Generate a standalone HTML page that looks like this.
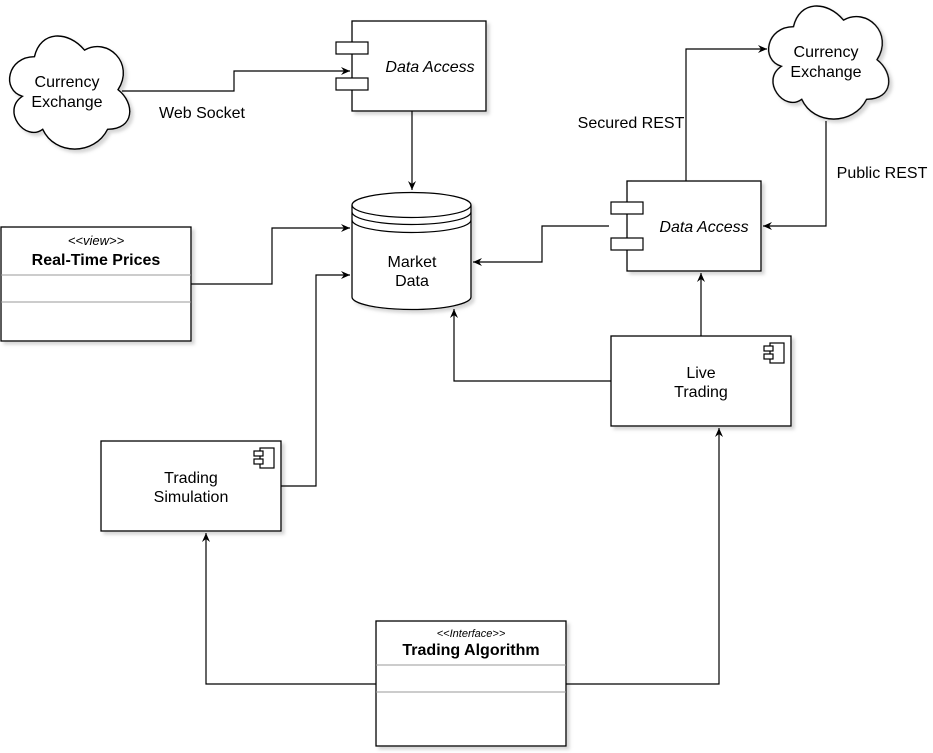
<!DOCTYPE html>
<html><head><meta charset="utf-8"><style>
body{margin:0;background:#fff;}
svg{display:block;font-family:"Liberation Sans",Arial,sans-serif;}
</style></head><body>
<svg width="933" height="753" viewBox="0 0 933 753" xmlns="http://www.w3.org/2000/svg">
<defs>
<marker id="a" markerWidth="10" markerHeight="10" refX="9" refY="5" orient="auto" markerUnits="userSpaceOnUse">
<path d="M0,1 L9,5 L0,9 L3,5 Z" fill="#000"/>
</marker>
<filter id="sh" x="-10%" y="-10%" width="130%" height="130%"><feDropShadow dx="3" dy="3" stdDeviation="1.5" flood-color="#888" flood-opacity="0.35"/></filter>
</defs>
<g fill="#fff" stroke="#000" stroke-width="1.3" filter="url(#sh)">
<g transform="translate(68,93) scale(1.1) translate(-68,-93)">
<path d="M37.5,60 C13,60 7,90 26.5,96 C7,109 29,138 45,126 C56,150 92,150 104,126 C129,126 129,102 113.5,90 C129,66 104,42 83,54 C68,36 43,36 37.5,60 Z"/>
</g>
<g transform="translate(827,63) scale(1.1) translate(-827,-63)">
<path d="M796.5,30 C772,30 766,60 785.5,66 C766,79 788,108 804,96 C815,120 851,120 863,96 C888,96 888,72 872.5,60 C888,36 863,12 842,24 C827,6 802,6 796.5,30 Z"/>
</g>
<rect x="352" y="21" width="134" height="90"/>
<rect x="627" y="181" width="134" height="90"/>
<path d="M352,205 A59.5,12.5 0 0 1 471,205 L471,297 A59.5,12.5 0 0 1 352,297 Z"/>
<rect x="1" y="227" width="190" height="114"/>
<rect x="101" y="441" width="180" height="90"/>
<rect x="611" y="336" width="180" height="90"/>
<rect x="376" y="621" width="190" height="125"/>
</g>
<g fill="#fff" stroke="#000" stroke-width="1.2">
<rect x="336" y="42" width="32" height="12"/><rect x="336" y="78" width="32" height="12"/>
<rect x="611" y="202" width="32" height="12"/><rect x="611" y="238" width="32" height="12"/>
<path d="M352,205 A59.5,12.5 0 0 0 471,205 M352,212 A59.5,12.5 0 0 0 471,212 M352,220 A59.5,12.5 0 0 0 471,220" fill="none"/>
<rect x="260" y="448" width="14" height="20"/><rect x="254" y="451" width="9" height="5"/><rect x="254" y="459" width="9" height="5"/>
<rect x="770" y="343" width="14" height="20"/><rect x="764" y="346" width="9" height="5"/><rect x="764" y="354" width="9" height="5"/>
</g>
<g stroke="#999" stroke-width="1">
<line x1="1" y1="275" x2="191" y2="275"/><line x1="1" y1="302" x2="191" y2="302"/>
<line x1="376" y1="665" x2="566" y2="665"/><line x1="376" y1="692" x2="566" y2="692"/>
</g>
<g fill="none" stroke="#000" stroke-width="1.2" marker-end="url(#a)">
<path d="M122,91 H234 V71 H350"/>
<path d="M412,111 V190"/>
<path d="M191,284 H272 V228 H350"/>
<path d="M281,486 H316 V275 H350"/>
<path d="M609,226 H542 V262 H473"/>
<path d="M686,181 V49 H767"/>
<path d="M826,121 V226 H763"/>
<path d="M701,336 V273"/>
<path d="M611,381 H454 V309"/>
<path d="M376,684 H206 V533"/>
<path d="M566,684 H719 V428"/>
</g>
<g font-size="16" fill="#000" text-anchor="middle">
<text x="67" y="87">Currency</text><text x="67" y="107">Exchange</text>
<text x="826" y="57">Currency</text><text x="826" y="77">Exchange</text>
<text x="430" y="72" font-style="italic">Data Access</text>
<text x="704" y="232" font-style="italic">Data Access</text>
<text x="412" y="267">Market</text><text x="412" y="286">Data</text>
<text x="191" y="483">Trading</text><text x="191" y="502">Simulation</text>
<text x="701" y="378">Live</text><text x="701" y="397">Trading</text>
<text x="202" y="118">Web Socket</text>
<text x="631" y="128">Secured REST</text>
<text x="882" y="178">Public REST</text>
<text x="96" y="245" font-size="13" font-style="italic">&lt;&lt;view&gt;&gt;</text>
<text x="96" y="265" font-size="16" font-weight="bold">Real-Time Prices</text>
<text x="471" y="637" font-size="11" font-style="italic">&lt;&lt;Interface&gt;&gt;</text>
<text x="471" y="655" font-size="16" font-weight="bold">Trading Algorithm</text>
</g>
</svg>
</body></html>
